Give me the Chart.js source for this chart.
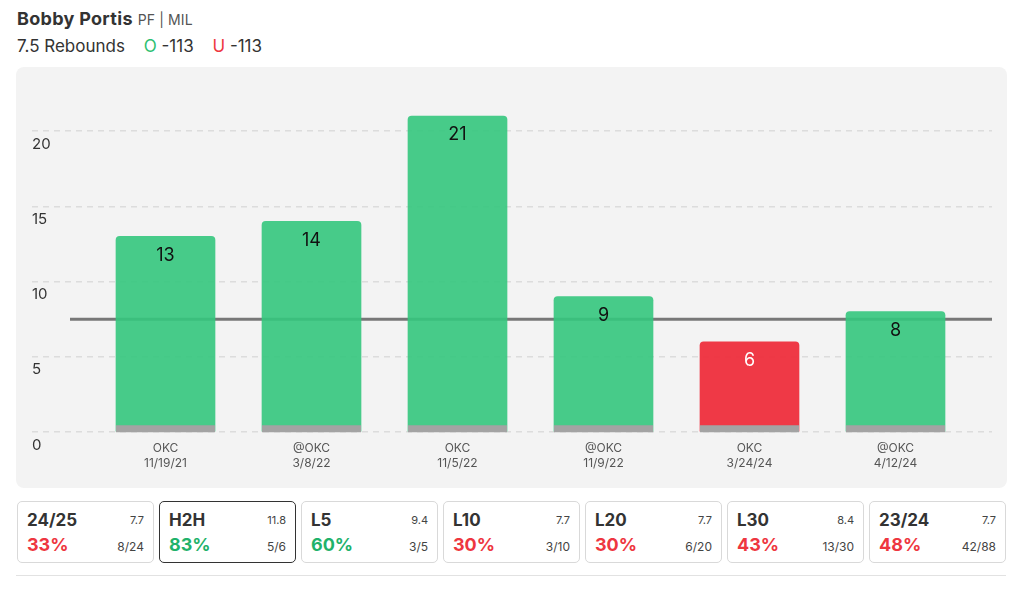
<!DOCTYPE html>
<html>
<head>
<meta charset="utf-8">
<script src="https://cdn.jsdelivr.net/npm/chart.js@4"></script>
<style>
  body { margin: 0; background: #fff; font-family: Inter, "Noto Sans", sans-serif; color: #333; width: 1024px; height: 589px; overflow: hidden; position: relative; }
  .title { position: absolute; left: 17px; top: 8px; font-size: 18px; font-weight: 700; color: #333; letter-spacing: 0.3px; }
  .title span { font-size: 14px; font-weight: 400; color: #555; margin-left: 5px; letter-spacing: 0.1px; }
  .sub { position: absolute; left: 17px; top: 36px; font-size: 17px; color: #333; }
  .sub .o { color: #2fbf71; margin-left: 14px; }
  .sub .u { color: #ee3640; margin-left: 14px; }
  .panel { position: absolute; left: 16px; top: 67px; width: 991px; height: 421px; background: #f3f3f3; border-radius: 8px; }
  .cards { position: absolute; left: 17px; top: 501px; }
  .card { position: absolute; top: 0; width: 135px; height: 60px; border: 1px solid #d9d9d9; border-radius: 5px; background: #fff; }
  .card.sel { border-color: #333; }
  .card .lab { position: absolute; left: 9px; top: 8px; font-size: 17px; font-weight: 700; color: #333; }
  .card .avg { position: absolute; right: 9px; top: 11px; font-size: 11px; color: #444; }
  .card .pct { position: absolute; left: 9px; top: 32px; font-size: 18px; font-weight: 700; }
  .card .rec { position: absolute; right: 9px; top: 37px; font-size: 12px; color: #444; }
  .rule { position: absolute; left: 16px; top: 575px; width: 990px; height: 1px; background: #e2e2e2; }
</style>
</head>
<body>
<div class="title">Bobby Portis<span>PF | MIL</span></div>
<div class="sub">7.5 Rebounds <span class="o">O</span> -113 <span class="u">U</span> -113</div>
<div class="panel"><canvas id="myChart" width="991" height="421"></canvas></div>
<div class="cards" id="cards"></div>
<div class="rule"></div>
<script>
const opponents = ["OKC", "@OKC", "OKC", "@OKC", "OKC", "@OKC"];
const gameDates = ["11/19/21", "3/8/22", "11/5/22", "11/9/22", "3/24/24", "4/12/24"];
const rebounds = [13, 14, 21, 9, 6, 8];
const propLine = 7.5;
const yTicks = [0, 5, 10, 15, 20];

const cardLabels = ["24/25", "H2H", "L5", "L10", "L20", "L30", "23/24"];
const cardAverages = ["7.7", "11.8", "9.4", "7.7", "7.7", "8.4", "7.7"];
const cardPercents = [33, 83, 60, 30, 30, 43, 48];
const cardRecords = ["8/24", "5/6", "3/5", "3/10", "6/20", "13/30", "42/88"];

const green = "rgba(52, 199, 125, 0.9)";
const red = "rgba(238, 46, 60, 0.95)";

// stat cards under the chart
const cardsBox = document.getElementById("cards");
cardLabels.forEach((lab, i) => {
  const card = document.createElement("div");
  card.className = "card" + (lab === "H2H" ? " sel" : "");
  card.style.left = (i * 142) + "px";
  const col = cardPercents[i] >= 50 ? "#1fb26b" : "#ee3640";
  card.innerHTML = `<div class="lab">${lab}</div><div class="avg">${cardAverages[i]}</div>` +
    `<div class="pct" style="color:${col}">${cardPercents[i]}%</div><div class="rec">${cardRecords[i]}</div>`;
  cardsBox.appendChild(card);
});

const propLinePlugin = {
  id: "propLine",
  beforeDatasetsDraw(chart) {
    const { ctx, chartArea, scales } = chart;
    const y = scales.y.getPixelForValue(propLine);
    ctx.save();
    ctx.strokeStyle = "#777";
    ctx.lineWidth = 3;
    ctx.beginPath();
    ctx.moveTo(chartArea.left + 38, y);
    ctx.lineTo(chartArea.right, y);
    ctx.stroke();
    ctx.restore();
  }
};

const barExtras = {
  id: "barExtras",
  afterDatasetsDraw(chart) {
    const { ctx } = chart;
    const meta = chart.getDatasetMeta(0);
    ctx.save();
    meta.data.forEach((bar, i) => {
      ctx.fillStyle = "#a3a3a3";
      ctx.fillRect(bar.x - bar.width / 2, bar.base - 6, bar.width, 7);
      ctx.fillStyle = rebounds[i] > propLine ? "#111" : "#fff";
      ctx.font = "18px Inter, sans-serif";
      ctx.textAlign = "center";
      ctx.textBaseline = "middle";
      ctx.fillText(rebounds[i], bar.x, bar.y + 19);
    });
    ctx.restore();
  }
};

new Chart(document.getElementById("myChart"), {
  type: "bar",
  data: {
    datasets: [{
      data: rebounds.map((v, i) => ({ x: i, y: v })),
      backgroundColor: rebounds.map(v => v > propLine ? green : red),
      barThickness: 99,
      borderRadius: { topLeft: 4, topRight: 4 },
      borderSkipped: "start"
    }]
  },
  options: {
    responsive: false,
    animation: false,
    layout: { padding: { left: 16, right: 15, top: 34, bottom: 16 } },
    plugins: { legend: { display: false }, tooltip: { enabled: false } },
    scales: {
      x: {
        type: "linear",
        offset: false,
        min: -0.9144,
        max: 5.661,
        afterBuildTicks: (scale) => { scale.ticks = opponents.map((o, i) => ({ value: i })); },
        grid: { display: false },
        border: { display: false },
        ticks: {
          autoSkip: false,
          maxRotation: 0,
          padding: 1,
          color: "#555",
          font: { size: 12, family: "Inter, sans-serif", lineHeight: 1.25 },
          callback: (v) => [opponents[v], gameDates[v]]
        }
      },
      y: {
        min: 0,
        max: 22,
        afterBuildTicks: (scale) => { scale.ticks = yTicks.map(v => ({ value: v })); },
        grid: { color: "#dcdcdc", lineWidth: 1.5, drawTicks: false },
        border: { display: false, dash: [6, 5] },
        ticks: {
          mirror: true,
          padding: 0,
          labelOffset: 13,
          color: "#333",
          font: { size: 15, family: "Inter, sans-serif" }
        }
      }
    }
  },
  plugins: [propLinePlugin, barExtras]
});
</script>
</body>
</html>
